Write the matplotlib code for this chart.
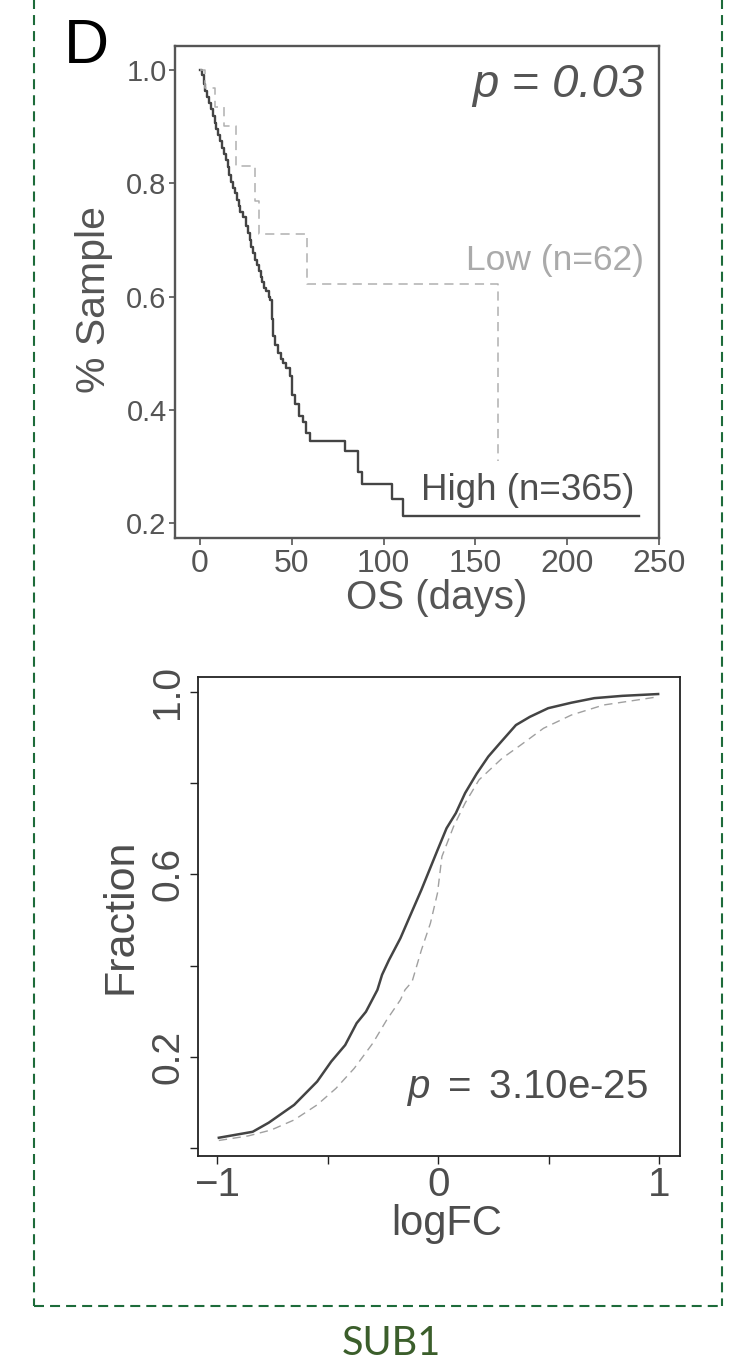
import numpy as np
import matplotlib
matplotlib.use("Agg")
import matplotlib.pyplot as plt
from matplotlib.lines import Line2D

plt.rcParams['font.family'] = ['Liberation Sans', 'DejaVu Sans']
plt.rcParams['mathtext.fontset'] = 'custom'
plt.rcParams['mathtext.rm'] = 'Liberation Sans'
plt.rcParams['mathtext.it'] = 'Liberation Sans:italic'

# Kaplan-Meier, high expression group (day, survival)
high_days = [0, 1, 2, 3, 4, 5, 6, 7, 8, 9, 10, 11, 12, 13, 14, 15, 16, 17, 18, 19,
             20, 21, 22, 23.5, 25, 26, 27, 28, 29, 30, 31, 32, 33, 34, 35, 36, 37.5,
             38, 39, 40, 41, 42.5, 44, 45, 47, 49, 50, 52, 54, 56, 58, 59.7, 78.8,
             86, 88, 104.6, 110.7, 239]
high_surv = [1.0, 0.99, 0.975, 0.962, 0.952, 0.942, 0.93, 0.918, 0.906, 0.895,
             0.885, 0.874, 0.862, 0.852, 0.84, 0.828, 0.815, 0.802, 0.792, 0.782,
             0.77, 0.76, 0.75, 0.74, 0.725, 0.712, 0.70, 0.688, 0.676, 0.665, 0.655,
             0.645, 0.635, 0.625, 0.615, 0.61, 0.60, 0.594, 0.56, 0.53, 0.515, 0.50,
             0.49, 0.483, 0.474, 0.46, 0.427, 0.41, 0.389, 0.378, 0.36, 0.345, 0.327,
             0.29, 0.269, 0.242, 0.212, 0.212]

# low expression group
low_days = [0, 3, 8, 13, 19.5, 30, 32, 58.5, 162.5]
low_surv = [1.0, 0.968, 0.935, 0.90, 0.83, 0.768, 0.71, 0.622, 0.31]

# cumulative distributions of logFC
solid_x = [-0.993, -0.84, -0.767, -0.652, -0.548, -0.484, -0.421, -0.369, -0.327,
           -0.275, -0.254, -0.223, -0.171, -0.129, -0.076, -0.003, 0.038, 0.08,
           0.122, 0.175, 0.227, 0.279, 0.352, 0.415, 0.498, 0.603, 0.707, 0.833, 0.996]
solid_y = [0.023, 0.036, 0.056, 0.095, 0.146, 0.19, 0.226, 0.274, 0.299, 0.347,
           0.38, 0.412, 0.46, 0.507, 0.566, 0.653, 0.701, 0.734, 0.778, 0.821,
           0.858, 0.887, 0.927, 0.945, 0.964, 0.976, 0.986, 0.991, 0.995]
dash_x = [-0.993, -0.86, -0.756, -0.652, -0.548, -0.463, -0.38, -0.296, -0.233,
          -0.171, -0.15, -0.118, -0.076, -0.035, -0.003, 0.017, 0.07, 0.122, 0.185,
          0.289, 0.373, 0.477, 0.603, 0.749, 0.874, 0.996]
dash_y = [0.017, 0.027, 0.04, 0.062, 0.095, 0.131, 0.175, 0.23, 0.281, 0.325,
          0.347, 0.365, 0.434, 0.493, 0.559, 0.639, 0.705, 0.756, 0.807, 0.854,
          0.883, 0.92, 0.949, 0.971, 0.98, 0.989]

km_yticks = [0.2, 0.4, 0.6, 0.8, 1.0]
km_xticks = [0, 50, 100, 150, 200, 250]

fig = plt.figure(figsize=(7.29, 13.68), dpi=100)

# ---- top: survival curves
ax1 = fig.add_axes([0.24005, 0.60673, 0.66392, 0.35965])
ax1.step(high_days, high_surv, where='post', color='#444444', lw=1.7)
ax1.step(low_days, low_surv, where='post', color='#b0b0b0', lw=1.1,
         linestyle=(0, (6, 4)))
ax1.set_xlim(-13.6, 250)
ax1.set_ylim(0.174, 1.042)
ax1.set_xticks(km_xticks)
ax1.set_yticks(km_yticks)
ax1.set_yticklabels(['%.1f' % v for v in km_yticks])
for s in ax1.spines.values():
    s.set_color('#555555')
    s.set_linewidth(1.7)
ax1.tick_params(axis='x', colors='#555555', labelcolor='#555555', labelsize=23,
                length=5, width=1.2, pad=3)
ax1.tick_params(axis='y', colors='#555555', labelcolor='#555555', labelsize=21,
                length=4, width=1.2, pad=2)
ax1.set_xlabel('OS (days)', fontsize=29, color='#555555')
ax1.set_ylabel('% Sample', fontsize=29.5, color='#555555')
ax1.xaxis.set_label_coords(0.541, -0.083)
ax1.yaxis.set_label_coords(-0.128, 0.484)
ax1.text(0.969, 0.897, 'p = 0.03', transform=ax1.transAxes, ha='right',
         va='baseline', fontsize=34, style='italic', color='#555555')
ax1.text(0.969, 0.5447, 'Low (n=62)', transform=ax1.transAxes, ha='right',
         va='baseline', fontsize=25.5, color='#aaaaaa')
ax1.text(0.95, 0.0772, 'High (n=365)', transform=ax1.transAxes, ha='right',
         va='baseline', fontsize=26.5, color='#4d4d4d')

# ---- bottom: cumulative fraction
ax2 = fig.add_axes([0.272, 0.15497, 0.6608, 0.35037])
ax2.plot(solid_x, solid_y, color='#444444', lw=1.8)
ax2.plot(dash_x, dash_y, color='#a0a0a0', lw=1.0, linestyle=(0, (6, 4)))
ax2.set_xlim(-1.086, 1.095)
ax2.set_ylim(-0.017, 1.033)
ax2.set_xticks([-1, -0.5, 0, 0.5, 1])
ax2.set_xticklabels(['\u22121', '', '0', '', '1'])
ax2.set_yticks([0, 0.2, 0.4, 0.6, 0.8, 1.0])
ax2.set_yticklabels(['', '0.2', '', '0.6', '', '1.0'], rotation=90, va='center')
for s in ax2.spines.values():
    s.set_color('#222222')
    s.set_linewidth(1.3)
ax2.tick_params(axis='x', colors='#222222', labelcolor='#4d4d4d', labelsize=29,
                length=6, width=1.0, pad=1.5)
ax2.tick_params(axis='y', colors='#222222', labelcolor='#4d4d4d', labelsize=28,
                length=6, width=1.0, pad=2.5)
ax2.set_xlabel('logFC', fontsize=30, color='#4d4d4d')
ax2.set_ylabel('Fraction', fontsize=31, color='#4d4d4d')
ax2.xaxis.set_label_coords(0.516, -0.100)
ax2.yaxis.set_label_coords(-0.119, 0.5)
ax2.text(0.9336, 0.121, r'$p$ $=$ 3.10e-25', transform=ax2.transAxes, ha='right',
         va='baseline', fontsize=29, color='#4d4d4d')

# ---- panel letter, dashed frame and caption
fig.text(0.0878, 0.954, 'D', fontsize=45, color='black', ha='left', va='baseline')

green = '#1d6b3a'
xl, xr, yb = 34 / 729, 722 / 729, 1 - 1306 / 1368
dash = (0, (4.8, 2.9))
for xs, ys in [([xl, xl], [1.01, yb]), ([xr, xr], [1.01, yb]), ([xl, xr], [yb, yb])]:
    fig.add_artist(Line2D(xs, ys, transform=fig.transFigure, color=green,
                          lw=1.5, linestyle=dash))

fig.text(391 / 729, 1 - 1355 / 1368, 'SUB1', fontsize=28.5, color='#3b5e2b',
         ha='center', va='baseline', family=['Lato', 'DejaVu Sans'])

fig.savefig('out.png', dpi=100)
